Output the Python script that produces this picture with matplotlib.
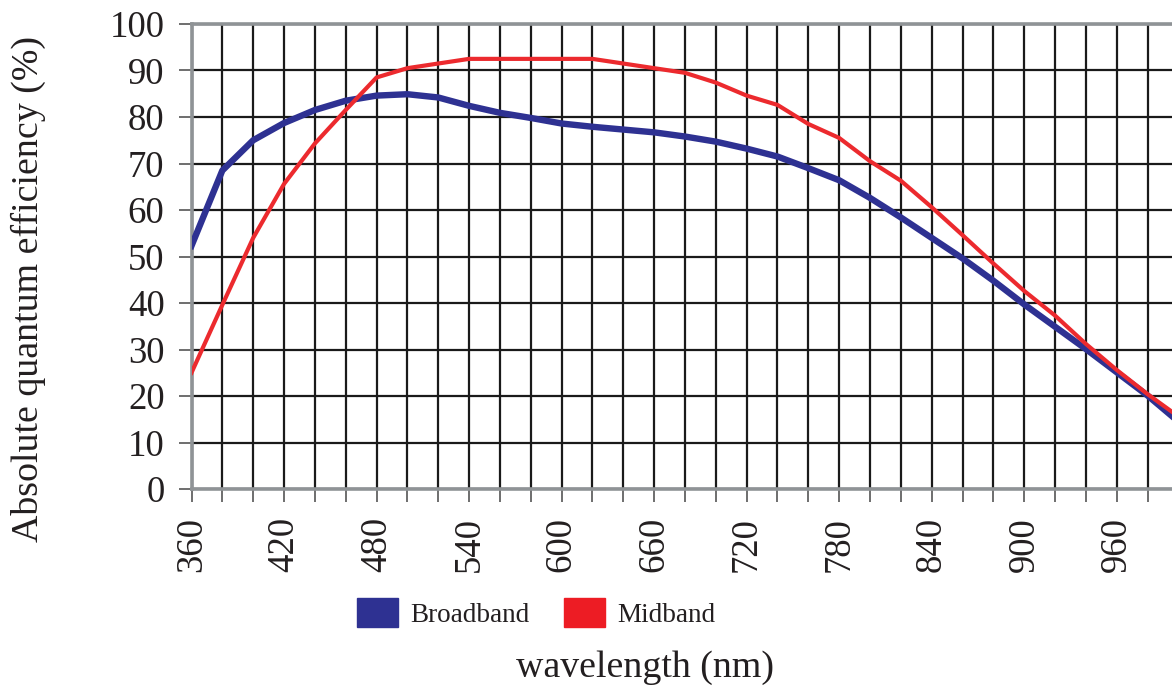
import numpy as np
import matplotlib
matplotlib.use("Agg")
import matplotlib.pyplot as plt
from matplotlib.patches import Patch

# wavelength (nm), every 20 nm
wavelength = [360, 380, 400, 420, 440, 460, 480, 500, 520, 540, 560, 580, 600,
              620, 640, 660, 680, 700, 720, 740, 760, 780, 800, 820, 840, 860,
              880, 900, 920, 940, 960, 980, 1000]

# absolute quantum efficiency (%)
broadband = [52.3, 68.5, 75.0, 78.7, 81.5, 83.5, 84.6, 84.9, 84.2, 82.4, 80.9,
             79.8, 78.6, 77.9, 77.3, 76.7, 75.8, 74.7, 73.2, 71.5, 69.0, 66.4,
             62.6, 58.4, 54.0, 49.6, 44.8, 39.7, 34.9, 30.1, 25.1, 20.1, 14.5]
midband = [25.0, 39.6, 54.0, 65.6, 74.3, 81.5, 88.5, 90.5, 91.5, 92.5, 92.5,
           92.5, 92.5, 92.5, 91.5, 90.5, 89.5, 87.4, 84.6, 82.6, 78.5, 75.5,
           70.5, 66.3, 60.6, 54.6, 48.5, 42.6, 37.3, 31.2, 25.6, 20.4, 15.6]

plt.rcParams['font.family'] = ['Liberation Serif', 'DejaVu Serif']
txt = '#231f20'
blue = '#2e3192'
red = '#ec2a2e'

fig = plt.figure(figsize=(11.72, 6.89), dpi=100)
ax = fig.add_axes([191.5 / 1172, 1 - 489 / 689, (1178.4 - 191.5) / 1172, (489 - 24) / 689])

ax.plot(wavelength, broadband, color=blue, lw=4.6, solid_joinstyle='round', zorder=3)
ax.plot(wavelength, midband, color=red, lw=3.0, solid_joinstyle='round', zorder=4)

ax.set_xlim(360, 1000)
ax.set_ylim(0, 100)
ax.set_xticks(np.arange(360, 1000, 60))
ax.set_xticks(np.arange(360, 1001, 20), minor=True)
ax.set_yticks(np.arange(0, 101, 10))

ax.grid(True, which='both', color='#1a1a1a', lw=1.6, zorder=1)
ax.set_axisbelow(True)

for s in ['top', 'bottom', 'left']:
    ax.spines[s].set_color('#8f9396')
    ax.spines[s].set_linewidth(2.6)
ax.spines['right'].set_visible(False)

ax.tick_params(axis='y', which='both', direction='out', length=9.4, width=1.2,
               color='#555555', labelsize=26.5, labelcolor=txt, pad=10)
ax.tick_params(axis='x', which='both', direction='out', length=9, width=1.2,
               color='#555555', labelsize=26.5, labelcolor=txt, pad=11,
               labelrotation=90)

fig.text(28 / 1172, 1 - 289 / 689, 'Absolute quantum efficiency (%)',
         rotation=90, ha='center', va='center', fontsize=27.3, color=txt)
fig.text(645 / 1172, 1 - 668 / 689, 'wavelength (nm)',
         ha='center', va='center', fontsize=27.3, color=txt)

handles = [Patch(facecolor=blue, edgecolor=blue, label='Broadband'),
           Patch(facecolor='#ed1c24', edgecolor='#ed1c24', label='Midband')]
fig.legend(handles=handles, loc='center left', ncol=2,
           bbox_to_anchor=(357 / 1172, 1 - 613 / 689), frameon=False,
           fontsize=19.5, handlelength=1.5, handleheight=1.25,
           handletextpad=0.45, columnspacing=1.3, borderpad=0,
           borderaxespad=0, labelcolor=txt)

fig.savefig('out.png', dpi=100)
